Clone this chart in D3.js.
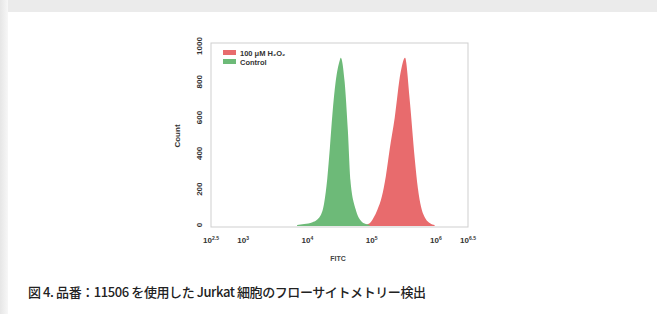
<!DOCTYPE html>
<html>
<head>
<meta charset="utf-8">
<script src="https://cdn.jsdelivr.net/npm/d3@7"></script>
<style>
  body { margin: 0; background: #fff; }
  svg { display: block; }
</style>
</head>
<body>
<svg id="chart" width="657" height="314"></svg>
<script>
// FITC histogram (log10 exponent of FITC, counts)
var controlLog = [3.84, 3.95, 4.08, 4.20, 4.26, 4.31, 4.35, 4.39, 4.44, 4.50, 4.52, 4.58, 4.63, 4.67, 4.75, 4.83, 4.91, 4.97];
var controlCount = [0, 5, 15, 50, 120, 260, 430, 620, 800, 915, 935, 800, 530, 250, 90, 25, 5, 0];
var h2o2Log = [4.875, 4.97, 5.03, 5.09, 5.16, 5.22, 5.28, 5.36, 5.45, 5.52, 5.59, 5.67, 5.72, 5.77, 5.84, 5.91, 5.98];
var h2o2Count = [0, 10, 40, 85, 160, 270, 420, 600, 850, 935, 710, 375, 205, 100, 35, 10, 0];

var xTickExp = ['2.5', '3', '4', '5', '6', '6.5'];
var yTicks = [0, 200, 400, 600, 800, 1000];
var seriesNames = ['100 μM H₂O₂', 'Control'];
var caption = '図 4. 品番：11506 を使用した Jurkat 細胞のフローサイトメトリー検出';

var red = '#e86b6d', green = '#6dba78';
var font = 'Liberation Sans, Arial, sans-serif';

var svg = d3.select('#chart');

// page background: gray band on top and left
var defs = svg.append('defs');
var lg = defs.append('linearGradient').attr('id', 'leftg').attr('x1', 0).attr('x2', 1);
lg.append('stop').attr('offset', '0%').attr('stop-color', '#e6e6e6');
lg.append('stop').attr('offset', '100%').attr('stop-color', '#f7f7f7');
svg.append('rect').attr('x', 0).attr('y', 0).attr('width', 657).attr('height', 12).attr('fill', '#ebebeb');
svg.append('rect').attr('x', 0).attr('y', 0).attr('width', 8).attr('height', 314).attr('fill', 'url(#leftg)');

var x = d3.scaleLog().domain([Math.pow(10, 2.5), Math.pow(10, 6.5)]).range([211, 468]);
var y = d3.scaleLinear().domain([0, 1000]).range([225, 46]);

// frame
svg.append('rect')
    .attr('x', 211).attr('y', 43).attr('width', 257).attr('height', 184)
    .attr('fill', 'none').attr('stroke', '#cfcfcf').attr('stroke-width', 1);

var area = d3.area()
    .x(function(d) { return x(Math.pow(10, d[0])); })
    .y0(y(0) + 1)
    .y1(function(d) { return y(d[1]); })
    .curve(d3.curveMonotoneX);

svg.append('path')
    .datum(d3.zip(h2o2Log, h2o2Count))
    .attr('fill', red)
    .attr('d', area);

svg.append('path')
    .datum(d3.zip(controlLog, controlCount))
    .attr('fill', green)
    .attr('d', area);

// x tick labels
xTickExp.forEach(function(e) {
    var t = svg.append('text')
        .attr('x', x(Math.pow(10, +e)))
        .attr('y', 243)
        .attr('text-anchor', 'middle')
        .attr('font-family', font)
        .attr('font-weight', 'bold')
        .attr('font-size', '8px')
        .attr('fill', '#333');
    t.append('tspan').text('10');
    t.append('tspan').attr('font-size', '5px').attr('dy', -3).text(e);
});

// y tick labels (rotated)
yTicks.forEach(function(v) {
    svg.append('text')
        .attr('transform', 'translate(202,' + y(v) + ') rotate(-90)')
        .attr('text-anchor', 'middle')
        .attr('font-family', font)
        .attr('font-weight', 'bold')
        .attr('font-size', '8px')
        .attr('fill', '#333')
        .text(v);
});

svg.append('text')
    .attr('transform', 'translate(180,136) rotate(-90)')
    .attr('text-anchor', 'middle')
    .attr('font-family', font)
    .attr('font-weight', 'bold')
    .attr('font-size', '8px')
    .attr('fill', '#333')
    .text('Count');

svg.append('text')
    .attr('x', 338).attr('y', 261)
    .attr('text-anchor', 'middle')
    .attr('font-family', font)
    .attr('font-weight', 'bold')
    .attr('font-size', '7px')
    .attr('fill', '#444')
    .text('FITC');

// legend
var legColors = [red, green];
seriesNames.forEach(function(n, i) {
    svg.append('rect')
        .attr('x', 223).attr('y', 50 + i * 9)
        .attr('width', 13).attr('height', 5)
        .attr('fill', legColors[i]);
    svg.append('text')
        .attr('x', 240).attr('y', 56 + i * 9)
        .attr('font-family', font)
        .attr('font-weight', 'bold')
        .attr('font-size', '7.5px')
        .attr('fill', '#333')
        .text(n);
});

svg.append('text')
    .attr('x', 28).attr('y', 297)
    .attr('font-family', 'Noto Sans CJK JP, sans-serif')
    .attr('font-size', '13px')
    .attr('font-weight', 500)
    .attr('textLength', 398)
    .attr('fill', '#222')
    .text(caption);
</script>
</body>
</html>
